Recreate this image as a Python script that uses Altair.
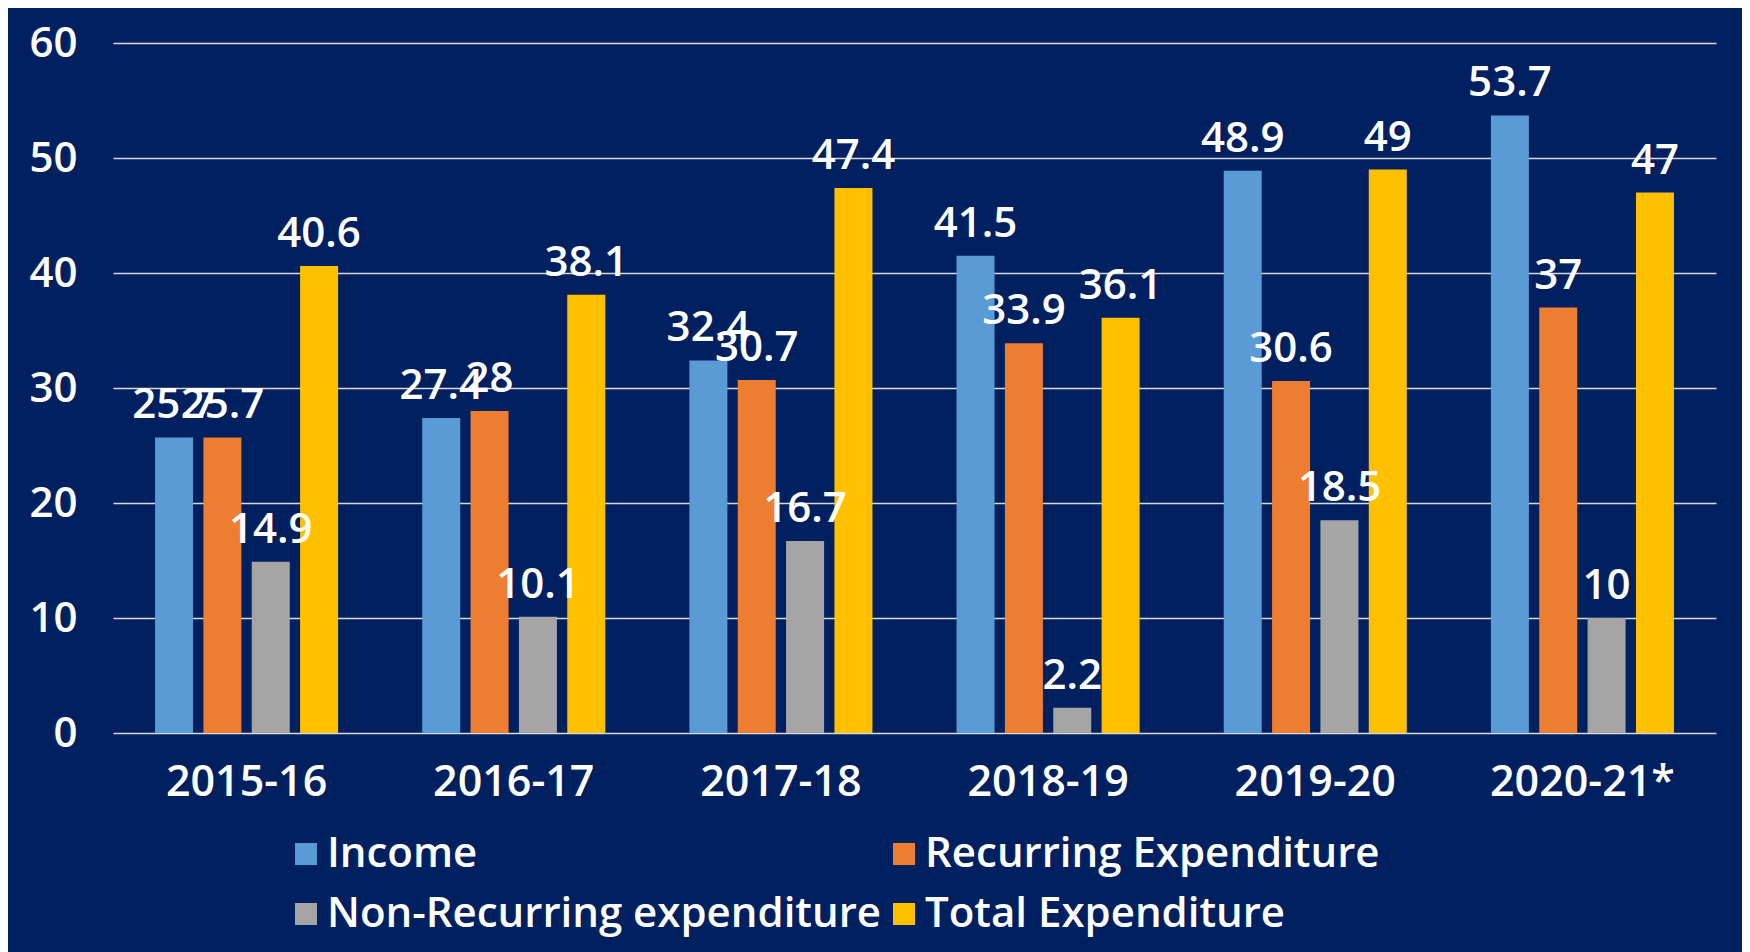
import altair as alt
import pandas as pd

years = ["2015-16", "2016-17", "2017-18", "2018-19", "2019-20", "2020-21*"]
series = ["Income", "Recurring Expenditure", "Non-Recurring expenditure", "Total Expenditure"]
income = [25.7, 27.4, 32.4, 41.5, 48.9, 53.7]
recurring = [25.7, 28, 30.7, 33.9, 30.6, 37]
nonrecurring = [14.9, 10.1, 16.7, 2.2, 18.5, 10]
total = [40.6, 38.1, 47.4, 36.1, 49, 47]
colors = ["#5B9BD5", "#ED7D31", "#A5A5A5", "#FFC000"]
y_ticks = [0, 10, 20, 30, 40, 50, 60]

rows = []
for s, vals in zip(series, [income, recurring, nonrecurring, total]):
    for yr, v in zip(years, vals):
        rows.append({"year": yr, "series": s, "value": v})
df = pd.DataFrame(rows)

FONT = "Open Sans"

base = alt.Chart(df).encode(
    x=alt.X("year:N", sort=years, title=None,
            scale=alt.Scale(paddingInner=0, paddingOuter=0),
            axis=alt.Axis(labelAngle=0, labelColor="white", labelFont=FONT,
                          labelFontSize=43, labelFontWeight=600, labelPadding=28,
                          labelLimit=1000,
                          domain=False, ticks=False, grid=False)),
    xOffset=alt.XOffset("series:N", sort=series,
                        scale=alt.Scale(paddingInner=0.214, paddingOuter=0.87)),
    y=alt.Y("value:Q", title=None,
            scale=alt.Scale(domain=[0, 60], nice=False),
            axis=alt.Axis(values=y_ticks, labelColor="white", labelFont=FONT,
                          labelFontSize=42, labelFontWeight=600, labelPadding=36,
                          domain=False, ticks=False, grid=True,
                          gridColor="#D9D9D9", gridWidth=1.6)),
)

bars = base.mark_bar().encode(
    color=alt.Color("series:N", sort=series,
                    scale=alt.Scale(domain=series, range=colors),
                    legend=alt.Legend(title=None, orient="none", legendX=172, legendY=790,
                                      direction="horizontal",
                                      columns=2, columnPadding=2, rowPadding=18,
                                      symbolType="square", symbolSize=484,
                                      symbolStrokeWidth=0, labelOffset=0,
                                      labelColor="white", labelFont=FONT,
                                      labelFontSize=42, labelFontWeight=600,
                                      labelLimit=1000, padding=0))
)

labels = base.mark_text(color="white", font=FONT, fontSize=42, fontWeight=600,
                        baseline="alphabetic", dy=-19).encode(
    text=alt.Text("value:Q")
)

chart = alt.layer(bars, labels).properties(
    width=1603, height=690,
    background="#002060",
    autosize=alt.AutoSizeParams(type="none"),
    padding={"left": 105, "top": 35, "right": 26, "bottom": 230},
).configure_view(stroke=None)

chart.save("out.html", embed_options={"renderer": "svg", "actions": False})
